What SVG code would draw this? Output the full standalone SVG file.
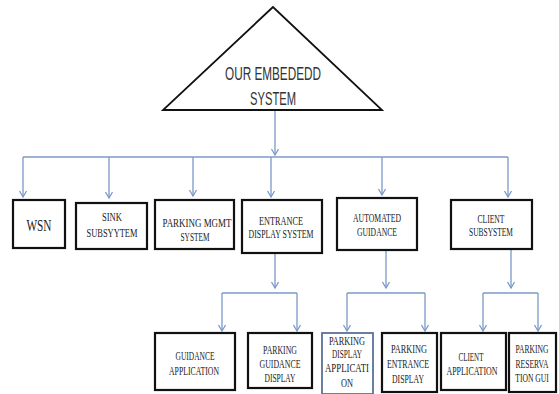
<svg xmlns="http://www.w3.org/2000/svg" width="559" height="394" viewBox="0 0 559 394">
<style>
.box{fill:#fff;stroke:#111;stroke-width:2.2}
.boxb{fill:#fff;stroke:#5a7297;stroke-width:1.8}
.t{font-family:"Liberation Serif","Times New Roman",serif;font-size:11.5px;fill:#222;text-anchor:middle}
.tri{font-family:"Liberation Sans",Arial,sans-serif;font-size:18px;fill:#333;text-anchor:middle}
.c{fill:none;stroke:#7b98c9;stroke-width:1.3}
</style>
<defs>
<marker id="ah" viewBox="-8 -5 10 10" markerWidth="10" markerHeight="10" refX="0" refY="0" orient="auto" markerUnits="userSpaceOnUse" overflow="visible">
<path d="M-6,-3.5 L0,0 L-6,3.5" fill="none" stroke="#7b98c9" stroke-width="1.3"/>
</marker>
</defs>
<rect width="559" height="394" fill="#fff"/>
<g id="connectors">
<path class="c" d="M275,110 V155" marker-end="url(#ah)"/>
<path class="c" d="M23,157 H508"/>
<path class="c" d="M23,157 V197" marker-end="url(#ah)"/>
<path class="c" d="M109,157 V198" marker-end="url(#ah)"/>
<path class="c" d="M193,157 V196" marker-end="url(#ah)"/>
<path class="c" d="M271,157 V197" marker-end="url(#ah)"/>
<path class="c" d="M382,157 V195" marker-end="url(#ah)"/>
<path class="c" d="M508,157 V197" marker-end="url(#ah)"/>
<path class="c" d="M275,253 V288" marker-end="url(#ah)"/>
<path class="c" d="M222,293 H297"/>
<path class="c" d="M222,293 V331" marker-end="url(#ah)"/>
<path class="c" d="M297,293 V331" marker-end="url(#ah)"/>
<path class="c" d="M386,250 V288" marker-end="url(#ah)"/>
<path class="c" d="M347,293 H425"/>
<path class="c" d="M347,293 V331" marker-end="url(#ah)"/>
<path class="c" d="M425,293 V331" marker-end="url(#ah)"/>
<path class="c" d="M511,249 V288" marker-end="url(#ah)"/>
<path class="c" d="M483,293 H538"/>
<path class="c" d="M483,293 V331" marker-end="url(#ah)"/>
<path class="c" d="M538,293 V331" marker-end="url(#ah)"/>
</g>
<g id="root">
<polygon points="273,7 163,110 382,110" fill="#fff" stroke="#111" stroke-width="1.8"/>
<text class="tri" x="273" y="80" textLength="96" lengthAdjust="spacingAndGlyphs">OUR EMBEDEDD</text>
<text class="tri" x="273" y="105" textLength="46" lengthAdjust="spacingAndGlyphs">SYSTEM</text>
</g>
<g id="wsn">
<rect class="box" x="13" y="200" width="52" height="48"/>
<text class="t" x="39" y="231" style="font-size:17px" textLength="25" lengthAdjust="spacingAndGlyphs">WSN</text>
</g>
<g id="sink">
<rect class="box" x="76" y="203" width="71" height="46"/>
<text class="t" x="112" y="221" textLength="20" lengthAdjust="spacingAndGlyphs">SINK</text>
<text class="t" x="112" y="237" textLength="51" lengthAdjust="spacingAndGlyphs">SUBSYYTEM</text>
</g>
<g id="mgmt">
<rect class="box" x="155" y="200" width="79" height="49"/>
<text class="t" x="197" y="227" textLength="69" lengthAdjust="spacingAndGlyphs">PARKING MGMT</text>
<text class="t" x="195" y="241" textLength="29" lengthAdjust="spacingAndGlyphs">SYSTEM</text>
</g>
<g id="entrance">
<rect class="box" x="242" y="200" width="80" height="53"/>
<text class="t" x="281" y="225" textLength="44" lengthAdjust="spacingAndGlyphs">ENTRANCE</text>
<text class="t" x="281" y="238" textLength="65" lengthAdjust="spacingAndGlyphs">DISPLAY SYSTEM</text>
</g>
<g id="automated">
<rect class="box" x="337" y="198" width="80" height="52"/>
<text class="t" x="377" y="222" textLength="48" lengthAdjust="spacingAndGlyphs">AUTOMATED</text>
<text class="t" x="377" y="236" textLength="40" lengthAdjust="spacingAndGlyphs">GUIDANCE</text>
</g>
<g id="client">
<rect class="box" x="451" y="200" width="81" height="49"/>
<text class="t" x="491" y="223" textLength="27" lengthAdjust="spacingAndGlyphs">CLIENT</text>
<text class="t" x="491" y="236" textLength="44" lengthAdjust="spacingAndGlyphs">SUBSYSTEM</text>
</g>
<g id="guidance-app">
<rect class="box" x="155" y="333" width="80" height="57"/>
<text class="t" x="195" y="360" textLength="39" lengthAdjust="spacingAndGlyphs">GUIDANCE</text>
<text class="t" x="194" y="375" textLength="50" lengthAdjust="spacingAndGlyphs">APPLICATION</text>
</g>
<g id="parking-guidance-display">
<rect class="box" x="248" y="333" width="64" height="55"/>
<text class="t" x="280" y="354" textLength="34" lengthAdjust="spacingAndGlyphs">PARKING</text>
<text class="t" x="280" y="368" textLength="41" lengthAdjust="spacingAndGlyphs">GUIDANCE</text>
<text class="t" x="280" y="382" textLength="31" lengthAdjust="spacingAndGlyphs">DISPLAY</text>
</g>
<g id="parking-display-app">
<rect class="boxb" x="322" y="333" width="51" height="61"/>
<text class="t" x="347" y="345" textLength="36" lengthAdjust="spacingAndGlyphs">PARKING</text>
<text class="t" x="347" y="358" textLength="30" lengthAdjust="spacingAndGlyphs">DISPLAY</text>
<text class="t" x="347" y="372" textLength="44" lengthAdjust="spacingAndGlyphs">APPLICATI</text>
<text class="t" x="347" y="387" textLength="12" lengthAdjust="spacingAndGlyphs">ON</text>
</g>
<g id="parking-entrance-display">
<rect class="box" x="382" y="333" width="55" height="59"/>
<text class="t" x="409" y="353" textLength="36" lengthAdjust="spacingAndGlyphs">PARKING</text>
<text class="t" x="408" y="368" textLength="42" lengthAdjust="spacingAndGlyphs">ENTRANCE</text>
<text class="t" x="408" y="383" textLength="32" lengthAdjust="spacingAndGlyphs">DISPLAY</text>
</g>
<g id="client-app">
<rect class="box" x="441" y="333" width="65" height="57"/>
<text class="t" x="471" y="361" textLength="25" lengthAdjust="spacingAndGlyphs">CLIENT</text>
<text class="t" x="472" y="375" textLength="51" lengthAdjust="spacingAndGlyphs">APPLICATION</text>
</g>
<g id="reservation-gui">
<rect class="box" x="509" y="333" width="47" height="59"/>
<g transform="translate(532,0) scale(0.66,1)">
<text class="t" x="0" y="353">PARKING</text>
<text class="t" x="0" y="368">RESERVA</text>
<text class="t" x="0" y="382">TION GUI</text>
</g>
</g>
</svg>
